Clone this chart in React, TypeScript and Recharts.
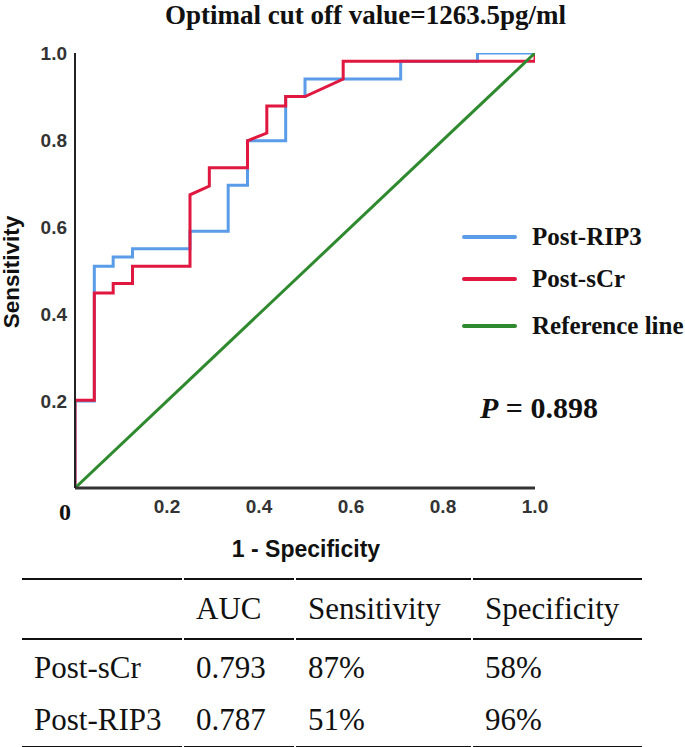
import React from "react";
import { Line, LineChart, XAxis, YAxis } from "recharts";

// ROC points (x = 1 - specificity, y = sensitivity)
const ripFpr = [0, 0, 0.042, 0.042, 0.083, 0.083, 0.125, 0.125, 0.25, 0.25, 0.333, 0.333, 0.375, 0.375, 0.458, 0.458, 0.5, 0.5, 0.708, 0.708, 0.875, 0.875, 1.0];
const ripSens = [0, 0.2, 0.2, 0.51, 0.51, 0.531, 0.531, 0.55, 0.55, 0.59, 0.59, 0.696, 0.696, 0.798, 0.798, 0.9, 0.9, 0.94, 0.94, 0.981, 0.981, 1.0, 1.0];

const scrFpr = [0, 0, 0.042, 0.042, 0.083, 0.083, 0.125, 0.125, 0.25, 0.25, 0.292, 0.292, 0.375, 0.375, 0.417, 0.417, 0.458, 0.458, 0.5, 0.583, 0.583, 1.0, 1.0];
const scrSens = [0, 0.202, 0.202, 0.448, 0.448, 0.47, 0.47, 0.51, 0.51, 0.674, 0.694, 0.736, 0.736, 0.798, 0.816, 0.878, 0.878, 0.9, 0.9, 0.94, 0.981, 0.981, 1.0];

const refFpr = [0, 1];
const refSens = [0, 1];

const xTicks = [0, 0.2, 0.4, 0.6, 0.8, 1.0];
const yTicks = [0.2, 0.4, 0.6, 0.8, 1.0];

const tableHead = ["", "AUC", "Sensitivity", "Specificity"];
const tableRows = [
  ["Post-sCr", "0.793", "87%", "58%"],
  ["Post-RIP3", "0.787", "51%", "96%"],
];

const legendItems = [
  { name: "Post-RIP3", color: "#5b9ce8" },
  { name: "Post-sCr", color: "#e0173f" },
  { name: "Reference line", color: "#2f8a2f" },
];

const toPoints = (xs: number[], ys: number[]) => xs.map((x, i) => ({ fpr: x, sens: ys[i] }));

const SERIF = "'Liberation Serif', 'Times New Roman', serif";
const SANS = "'Liberation Sans', Arial, sans-serif";

function XTick({ x, y, payload }: any) {
  if (payload.value === 0) {
    return (
      <text x={x - 10} y={y + 32} textAnchor="middle" fontFamily={SERIF} fontSize={24} fontWeight="bold" fill="#111">
        0
      </text>
    );
  }
  return (
    <text x={x} y={y + 25} textAnchor="middle" fontFamily={SANS} fontSize={19} fontWeight="bold" fill="#333">
      {payload.value.toFixed(1)}
    </text>
  );
}

function YTick({ x, y, payload }: any) {
  return (
    <text x={x - 8} y={y + 7} textAnchor="end" fontFamily={SANS} fontSize={19} fontWeight="bold" fill="#333">
      {payload.value.toFixed(1)}
    </text>
  );
}

export default function App() {
  const cellStyle: React.CSSProperties = {
    padding: "0 0 0 12px",
    textAlign: "left",
    fontWeight: "normal",
    whiteSpace: "nowrap",
  };

  return (
    <div style={{ position: "absolute", left: 0, top: 0, width: 685, height: 747, background: "#fff", overflow: "hidden" }}>
      <div
        style={{
          position: "absolute",
          left: 0,
          width: 685,
          top: 0,
          textAlign: "center",
          paddingLeft: 46,
          boxSizing: "border-box",
          fontFamily: SERIF,
          fontWeight: "bold",
          fontSize: 27,
          lineHeight: "31px",
          color: "#111",
        }}
      >
        Optimal cut off value=1263.5pg/ml
      </div>

      <div style={{ position: "absolute", left: 0, top: 0 }}>
        <LineChart width={685} height={560} margin={{ top: 53, right: 150, left: 15, bottom: 42 }}>
          <XAxis
            type="number"
            dataKey="fpr"
            domain={[0, 1]}
            ticks={xTicks}
            tick={<XTick />}
            tickSize={0}
            tickMargin={0}
            tickLine={false}
            height={30}
            axisLine={{ stroke: "#333", strokeWidth: 3 }}
            allowDataOverflow
          />
          <YAxis
            type="number"
            dataKey="sens"
            domain={[0, 1]}
            ticks={yTicks}
            tick={<YTick />}
            tickSize={0}
            tickMargin={0}
            tickLine={false}
            width={60}
            axisLine={{ stroke: "#222", strokeWidth: 2 }}
            allowDataOverflow
          />
          <Line
            data={toPoints(ripFpr, ripSens)}
            dataKey="sens"
            type="linear"
            stroke="#5b9ce8"
            strokeWidth={3}
            dot={false}
            isAnimationActive={false}
            name="Post-RIP3"
          />
          <Line
            data={toPoints(scrFpr, scrSens)}
            dataKey="sens"
            type="linear"
            stroke="#e0173f"
            strokeWidth={3}
            dot={false}
            isAnimationActive={false}
            name="Post-sCr"
          />
          <Line
            data={toPoints(refFpr, refSens)}
            dataKey="sens"
            type="linear"
            stroke="#2f8a2f"
            strokeWidth={3}
            dot={false}
            isAnimationActive={false}
            name="Reference line"
          />
        </LineChart>
      </div>

      {/* axis titles */}
      <div
        style={{
          position: "absolute",
          left: 11,
          top: 272,
          transform: "translate(-50%, -50%) rotate(-90deg)",
          fontFamily: SANS,
          fontWeight: "bold",
          fontSize: 22.5,
          lineHeight: "23px",
          color: "#111",
          whiteSpace: "nowrap",
        }}
      >
        Sensitivity
      </div>
      <div
        style={{
          position: "absolute",
          left: 306,
          top: 549,
          transform: "translate(-50%, -50%)",
          fontFamily: SANS,
          fontWeight: "bold",
          fontSize: 23,
          lineHeight: "23px",
          color: "#111",
          whiteSpace: "nowrap",
        }}
      >
        1 - Specificity
      </div>

      {/* legend */}
      {legendItems.map((item, i) => (
        <div
          key={item.name}
          style={{ position: "absolute", left: 462, top: [237, 279, 326][i] - 13, height: 26, display: "flex", alignItems: "center" }}
        >
          <span style={{ display: "inline-block", width: 55, height: 4, borderRadius: 2, background: item.color }} />
          <span style={{ marginLeft: 15, fontFamily: SERIF, fontWeight: "bold", fontSize: 25, lineHeight: "26px", color: "#111", whiteSpace: "nowrap" }}>
            {item.name}
          </span>
        </div>
      ))}

      <div
        style={{
          position: "absolute",
          left: 480,
          top: 391,
          fontFamily: SERIF,
          fontWeight: "bold",
          fontSize: 30,
          lineHeight: "33px",
          color: "#111",
          whiteSpace: "nowrap",
        }}
      >
        <i>P</i> = 0.898
      </div>

      {/* summary table */}
      <table
        style={{
          position: "absolute",
          left: 20,
          top: 578,
          width: 624,
          borderCollapse: "separate",
          borderSpacing: "2px 0",
          fontFamily: SERIF,
          fontSize: 31,
          color: "#111",
        }}
      >
        <colgroup>
          <col style={{ width: 160 }} />
          <col style={{ width: 110 }} />
          <col style={{ width: 175 }} />
          <col style={{ width: 169 }} />
        </colgroup>
        <thead>
          <tr>
            {tableHead.map((h, i) => (
              <th key={i} style={{ ...cellStyle, height: 58, borderTop: "2.5px solid #111", borderBottom: "2.5px solid #111" }}>
                {h}
              </th>
            ))}
          </tr>
        </thead>
        <tbody>
          {tableRows.map((row, r) => (
            <tr key={r}>
              {row.map((c, i) => (
                <td
                  key={i}
                  style={{
                    ...cellStyle,
                    height: 52,
                    paddingTop: r === 0 ? 2 : 0,
                    borderBottom: r === tableRows.length - 1 ? "2.5px solid #111" : "none",
                  }}
                >
                  {c}
                </td>
              ))}
            </tr>
          ))}
        </tbody>
      </table>
    </div>
  );
}
